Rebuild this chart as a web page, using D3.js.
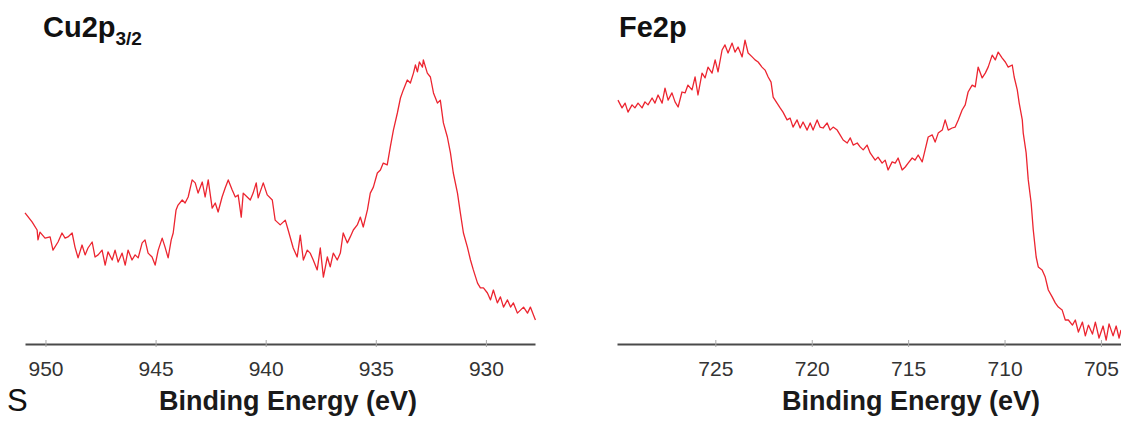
<!DOCTYPE html>
<html>
<head>
<meta charset="utf-8">
<script src="https://cdn.jsdelivr.net/npm/d3@7"></script>
<style>
  html, body { margin: 0; padding: 0; background: #fff; }
  svg { display: block; font-family: "Liberation Sans", Arial, Helvetica, sans-serif; }
</style>
</head>
<body>
<svg id="chart" width="1121" height="423"></svg>
<script>
// Cu 2p3/2 region: binding energy (eV) and intensity (a.u.)
const cuEnergy = [
  950.93, 950.61, 950.38, 950.34, 950.25, 950.02, 949.79, 949.66, 949.43, 949.25,
  949.11, 948.98, 948.79, 948.66, 948.52, 948.34, 948.20, 948.07, 947.88, 947.75,
  947.61, 947.43, 947.29, 947.16, 946.97, 946.84, 946.70, 946.52, 946.38, 946.25,
  946.07, 945.93, 945.79, 945.61, 945.48, 945.34, 945.16, 945.02, 944.88, 944.70,
  944.57, 944.43, 944.29, 944.20, 944.07, 943.98, 943.79, 943.66, 943.52, 943.34,
  943.20, 943.07, 942.88, 942.75, 942.61, 942.43, 942.29, 942.16, 941.98, 941.84,
  941.70, 941.52, 941.38, 941.25, 941.11, 941.02, 940.84, 940.70, 940.57, 940.43,
  940.34, 940.25, 940.11, 939.93, 939.70, 939.57, 939.34, 939.11, 938.98, 938.75,
  938.57, 938.43, 938.29, 938.11, 937.98, 937.84, 937.66, 937.52, 937.38, 937.20,
  937.07, 936.93, 936.75, 936.61, 936.48, 936.29, 936.16, 936.02, 935.84, 935.70,
  935.57, 935.38, 935.25, 935.11, 934.93, 934.79, 934.66, 934.48, 934.34, 934.20,
  934.02, 933.88, 933.75, 933.57, 933.43, 933.29, 933.20, 933.11, 933.02, 932.88,
  932.84, 932.66, 932.52, 932.38, 932.20, 932.07, 931.93, 931.75, 931.61, 931.48,
  931.29, 931.16, 931.02, 930.84, 930.70, 930.57, 930.38, 930.25, 930.11, 929.93,
  929.79, 929.66, 929.48, 929.34, 929.20, 929.02, 928.88, 928.75, 928.57, 928.43,
  928.29, 928.11, 927.98, 927.84, 927.75
];
const cuIntensity = [
  43.7, 40.7, 38.0, 34.7, 37.3, 35.3, 35.7, 31.3, 34.0, 37.0,
  35.3, 35.7, 37.0, 32.3, 28.7, 33.0, 29.7, 32.0, 34.0, 29.0,
  29.7, 31.3, 26.3, 30.7, 28.0, 31.3, 27.3, 30.3, 26.3, 31.3,
  28.0, 29.7, 28.7, 33.7, 34.7, 30.3, 29.0, 26.3, 31.3, 35.3,
  32.3, 28.7, 34.7, 37.0, 44.7, 46.3, 48.0, 47.0, 49.0, 54.7,
  53.7, 50.3, 54.0, 49.0, 54.7, 45.3, 47.0, 44.0, 49.0, 52.0,
  54.7, 51.3, 49.0, 49.7, 42.3, 50.3, 49.0, 48.0, 50.3, 53.7,
  48.7, 50.7, 53.7, 49.7, 48.0, 41.3, 39.7, 41.3, 38.0, 32.0,
  29.0, 36.3, 28.0, 31.3, 30.3, 28.0, 24.7, 32.0, 22.3, 29.0,
  25.7, 30.3, 28.0, 30.3, 37.0, 33.7, 35.7, 38.0, 39.7, 42.3,
  39.0, 44.7, 50.3, 52.3, 57.0, 58.0, 60.3, 59.7, 65.7, 71.3,
  77.0, 82.0, 84.7, 88.0, 87.0, 90.3, 93.0, 90.7, 94.0, 92.3,
  94.7, 90.3, 89.0, 83.7, 80.3, 81.3, 73.7, 69.0, 63.7, 57.0,
  50.3, 43.7, 37.0, 32.3, 28.0, 24.7, 20.3, 18.7, 18.7, 17.0,
  14.7, 18.0, 13.7, 15.7, 12.3, 14.7, 12.3, 13.7, 10.3, 11.3,
  12.3, 10.3, 12.3, 9.7, 8.0
];

// Fe 2p region: binding energy (eV) and intensity (a.u.)
const feEnergy = [
  730.05, 729.84, 729.68, 729.53, 729.32, 729.17, 729.01, 728.80, 728.65, 728.49,
  728.28, 728.13, 727.97, 727.76, 727.61, 727.45, 727.25, 727.09, 726.93, 726.73,
  726.57, 726.42, 726.21, 726.05, 725.90, 725.69, 725.53, 725.38, 725.17, 725.01,
  724.86, 724.65, 724.50, 724.34, 724.13, 723.98, 723.82, 723.61, 723.46, 723.30,
  723.09, 722.94, 722.78, 722.58, 722.42, 722.26, 722.11, 722.00, 721.80, 721.64,
  721.49, 721.28, 721.12, 720.97, 720.76, 720.60, 720.45, 720.24, 720.08, 719.93,
  719.72, 719.57, 719.41, 719.20, 719.05, 718.89, 718.68, 718.53, 718.37, 718.16,
  718.00, 717.85, 717.64, 717.49, 717.33, 717.13, 716.97, 716.71, 716.56, 716.35,
  716.19, 716.04, 715.83, 715.67, 715.52, 715.31, 715.15, 715.00, 714.79, 714.64,
  714.48, 714.27, 714.12, 713.96, 713.75, 713.60, 713.44, 713.23, 713.08, 712.92,
  712.72, 712.56, 712.40, 712.20, 712.04, 711.89, 711.68, 711.52, 711.37, 711.16,
  711.00, 710.85, 710.64, 710.48, 710.33, 710.12, 709.96, 709.81, 709.60, 709.50,
  709.34, 709.24, 709.08, 709.03, 708.88, 708.77, 708.62, 708.51, 708.36, 708.25,
  708.05, 707.89, 707.73, 707.53, 707.37, 707.21, 707.01, 706.85, 706.69, 706.48,
  706.33, 706.17, 705.96, 705.81, 705.65, 705.44, 705.29, 705.10, 704.89, 704.73,
  704.58, 704.37, 704.21, 704.06, 703.96
];
const feIntensity = [
  81.3, 78.7, 80.3, 77.3, 79.7, 78.7, 80.3, 78.7, 80.7, 79.7,
  82.0, 80.3, 83.0, 80.3, 85.3, 81.3, 83.7, 80.7, 79.0, 84.0,
  83.7, 86.3, 84.7, 89.0, 83.0, 90.3, 88.7, 92.3, 90.3, 94.7,
  90.7, 98.0, 99.7, 97.0, 100.3, 97.3, 99.0, 95.7, 101.3, 97.0,
  95.7, 94.7, 94.0, 92.3, 91.3, 89.0, 87.3, 82.3, 80.3, 78.7,
  77.3, 74.7, 75.3, 72.3, 74.7, 72.0, 74.0, 71.3, 73.7, 71.3,
  74.7, 72.3, 72.0, 73.7, 71.3, 72.3, 71.3, 69.7, 68.0, 67.0,
  68.7, 66.3, 67.0, 65.7, 64.7, 66.3, 63.7, 61.3, 62.3, 60.3,
  61.3, 58.0, 60.7, 60.3, 62.0, 58.0, 59.0, 60.3, 62.0, 61.3,
  63.0, 60.7, 64.7, 69.0, 69.7, 67.3, 70.3, 71.3, 74.7, 71.3,
  72.0, 72.3, 74.7, 78.0, 79.7, 84.0, 86.3, 85.7, 92.3, 88.7,
  90.3, 92.3, 96.3, 94.7, 97.3, 95.3, 94.0, 92.3, 93.0, 89.0,
  84.7, 80.3, 74.7, 70.3, 63.7, 54.7, 47.0, 38.0, 29.0, 25.7,
  24.7, 22.3, 18.0, 15.7, 13.7, 12.3, 11.3, 8.0, 8.0, 6.3,
  8.0, 4.0, 7.3, 2.7, 6.3, 3.3, 7.3, 2.0, 6.0, 1.3,
  6.7, 2.7, 6.0, 2.0, 4.7
];

const cuTicks = [950, 945, 940, 935, 930];
const feTicks = [725, 720, 715, 710, 705];

const svg = d3.select("#chart");
const axisY = 344;
const lineColor = "#ec2530";

function drawPanel(opts) {
  const x = d3.scaleLinear().domain(opts.domain).range(opts.range);
  const y = d3.scaleLinear().domain([0, 100]).range([axisY, axisY - 300]);
  const g = svg.append("g");

  // spectrum trace
  const pts = opts.energy.map((e, i) => [e, opts.intensity[i]]);
  g.append("path")
    .datum(pts)
    .attr("fill", "none")
    .attr("stroke", lineColor)
    .attr("stroke-width", 1.3)
    .attr("stroke-linejoin", "round")
    .attr("d", d3.line().x(d => x(d[0])).y(d => y(d[1])));

  // binding energy axis
  const axis = d3.axisBottom(x)
    .tickValues(opts.ticks)
    .tickSize(0)
    .tickPadding(17)
    .tickFormat(d3.format("d"));
  const ag = g.append("g")
    .attr("transform", `translate(0,${axisY})`)
    .call(axis);
  ag.select(".domain")
    .attr("stroke", "#4a4a4a")
    .attr("stroke-width", 2.2);
  ag.selectAll(".tick line").remove();
  ag.selectAll(".tick").append("line")
    .attr("y1", -4).attr("y2", 3)
    .attr("stroke", "#aaa").attr("stroke-width", 1);
  ag.selectAll(".tick text")
    .attr("fill", "#333")
    .style("font-size", "21px")
    .style("font-family", "'Liberation Sans', Arial, sans-serif");

  // axis title
  g.append("text")
    .attr("x", opts.titleX)
    .attr("y", 410)
    .attr("text-anchor", "middle")
    .attr("fill", "#1a1a1a")
    .style("font-size", "27px")
    .style("font-weight", "bold")
    .text("Binding Energy (eV)");

  return g;
}

drawPanel({
  domain: [950.93, 927.77], range: [25, 535],
  energy: cuEnergy, intensity: cuIntensity, ticks: cuTicks, titleX: 288
});
drawPanel({
  domain: [730.1, 703.96], range: [617, 1121],
  energy: feEnergy, intensity: feIntensity, ticks: feTicks, titleX: 911
});

// panel labels
const cu = svg.append("text")
  .attr("x", 43).attr("y", 37)
  .attr("fill", "#111")
  .style("font-size", "29px")
  .style("font-weight", "bold");
cu.append("tspan").text("Cu2p");
cu.append("tspan").attr("dy", 8).style("font-size", "19px").text("3/2");

svg.append("text")
  .attr("x", 619).attr("y", 37)
  .attr("fill", "#111")
  .style("font-size", "29px")
  .style("font-weight", "bold")
  .text("Fe2p");

svg.append("text")
  .attr("x", 7).attr("y", 411)
  .attr("fill", "#111")
  .style("font-size", "31px")
  .text("S");
</script>
</body>
</html>
